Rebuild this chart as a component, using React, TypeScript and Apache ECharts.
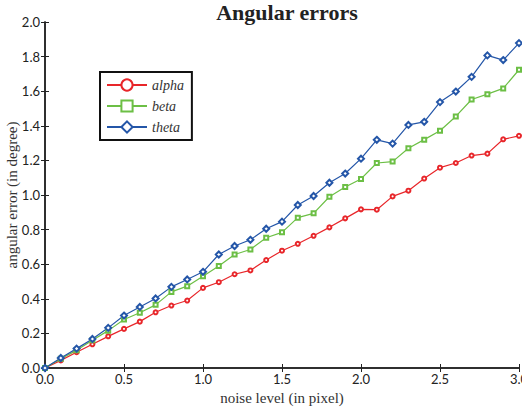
import React, { useEffect, useRef } from "react";
import * as echarts from "echarts";

const noise = [0, 0.1, 0.2, 0.3, 0.4, 0.5, 0.6, 0.7, 0.8, 0.9, 1.0, 1.1, 1.2, 1.3, 1.4, 1.5, 1.6, 1.7, 1.8, 1.9, 2.0, 2.1, 2.2, 2.3, 2.4, 2.5, 2.6, 2.7, 2.8, 2.9, 3.0];
const alpha = [0, 0.044, 0.091, 0.137, 0.183, 0.226, 0.268, 0.322, 0.361, 0.39, 0.463, 0.496, 0.542, 0.564, 0.624, 0.678, 0.718, 0.764, 0.813, 0.865, 0.917, 0.915, 0.992, 1.025, 1.095, 1.158, 1.185, 1.228, 1.239, 1.322, 1.342];
const beta = [0, 0.054, 0.102, 0.16, 0.216, 0.28, 0.319, 0.365, 0.44, 0.473, 0.531, 0.589, 0.656, 0.685, 0.753, 0.784, 0.869, 0.894, 0.99, 1.046, 1.093, 1.185, 1.193, 1.27, 1.32, 1.371, 1.454, 1.552, 1.583, 1.616, 1.724];
const theta = [0, 0.058, 0.112, 0.168, 0.232, 0.303, 0.353, 0.402, 0.469, 0.512, 0.556, 0.656, 0.705, 0.741, 0.805, 0.846, 0.942, 0.994, 1.071, 1.124, 1.21, 1.319, 1.297, 1.405, 1.423, 1.537, 1.598, 1.683, 1.807, 1.78, 1.878];

const seriesNames = ["alpha", "beta", "theta"];
const seriesColors = ["#e8262a", "#6cbf45", "#2456a8"];
const seriesSymbols = ["emptyCircle", "emptyRect", "emptyDiamond"];
const seriesData = [alpha, beta, theta];

export default function App() {
  const ref = useRef<HTMLDivElement>(null);
  useEffect(() => {
    if (!ref.current) return;
    const chart = echarts.init(ref.current, undefined, { renderer: "svg" });
    const labelFont = { fontFamily: "Lato", fontSize: 13, color: "#222" };
    const axisLine = { show: true, lineStyle: { color: "#222", width: 1.5 } };
    const tick = { show: true, inside: true, length: 4, lineStyle: { color: "#222", width: 1 } };
    chart.setOption({
      animation: false,
      backgroundColor: "#fff",
      title: {
        text: "Angular errors",
        left: 282,
        textAlign: "center",
        top: -4,
        textStyle: { fontFamily: "Liberation Serif", fontWeight: "bold", fontSize: 22, color: "#222" },
      },
      grid: { left: 45, right: 3, top: 22, bottom: 40, containLabel: false, outerBoundsMode: "none" },
      legend: {
        orient: "vertical",
        left: 100,
        top: 72,
        padding: [6, 8, 6, 6],
        itemGap: 7,
        itemWidth: 40,
        itemHeight: 14,
        borderColor: "#111",
        borderWidth: 2,
        backgroundColor: "#fff",
        textStyle: { fontFamily: "Liberation Serif", fontStyle: "italic", fontSize: 14, color: "#333" },
        data: seriesNames,
      },
      xAxis: [
        {
          type: "value",
          min: 0,
          max: 3,
          interval: 0.5,
          name: "noise level (in pixel)",
          nameLocation: "middle",
          nameGap: 22,
          nameMoveOverlap: false,
          nameTextStyle: { fontFamily: "Liberation Serif", fontSize: 15, color: "#333" },
          axisLine,
          axisTick: tick,
          splitLine: { show: false },
          axisLabel: { ...labelFont, margin: 4, formatter: (v: number) => v.toFixed(1) },
        },
        {
          type: "value",
          position: "top",
          min: 0,
          max: 3,
          interval: 0.5,
          axisLine,
          axisTick: tick,
          splitLine: { show: false },
          axisLabel: { show: false },
        },
      ],
      yAxis: [
        {
          type: "value",
          min: 0,
          max: 2,
          interval: 0.2,
          name: "angular error (in degree)",
          nameLocation: "middle",
          nameGap: 26,
          nameMoveOverlap: false,
          nameTextStyle: { fontFamily: "Liberation Serif", fontSize: 15, color: "#333" },
          axisLine,
          axisTick: tick,
          splitLine: { show: false },
          axisLabel: { ...labelFont, margin: 5, formatter: (v: number) => v.toFixed(1) },
        },
        {
          type: "value",
          position: "right",
          min: 0,
          max: 2,
          interval: 0.2,
          axisLine,
          axisTick: tick,
          splitLine: { show: false },
          axisLabel: { show: false },
        },
      ],
      series: seriesNames.map((name, i) => ({
        name,
        type: "line",
        data: noise.map((x, j) => [x, seriesData[i][j]]),
        symbol: seriesSymbols[i],
        symbolSize: i === 2 ? 6 : 4,
        showAllSymbol: true,
        color: seriesColors[i],
        lineStyle: { color: seriesColors[i], width: 1.2 },
        itemStyle: { color: seriesColors[i], borderColor: seriesColors[i], borderWidth: 1 },
      })),
    });
    return () => chart.dispose();
  }, []);
  return <div ref={ref} style={{ width: 522, height: 408, position: "absolute", left: 0, top: 0 }} />;
}
